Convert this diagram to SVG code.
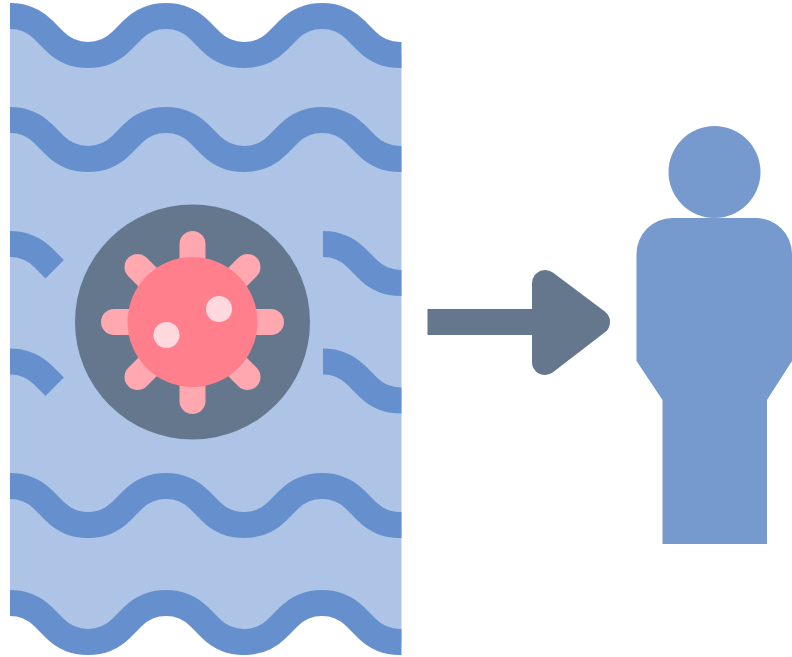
<svg xmlns="http://www.w3.org/2000/svg" xmlns:xlink="http://www.w3.org/1999/xlink" width="792" height="657" viewBox="0 0 792 657">
  <style>
    .wave { fill: none; stroke: #6690CD; stroke-width: 26; }
    .spike { fill: none; stroke: #FFA8B0; stroke-width: 26; stroke-linecap: round; }
    .dark { fill: #64778D; }
    .person { fill: #769ACD; }
    .spot { fill: #FFD9DD; }
  </style>
  <defs>
    <path id="full" d="M10 0a47 47 0 0 1 33.3 13.8l11.4 11.4a47 47 0 0 0 33.3 13.8a47 47 0 0 0 33.3-13.8l11.4-11.4a47 47 0 0 1 33.3-13.8a47 47 0 0 1 33.3 13.8l11.4 11.4a47 47 0 0 0 33.3 13.8a47 47 0 0 0 33.3-13.8l11.4-11.4a47 47 0 0 1 33.3-13.8a47 47 0 0 1 33.3 13.8l11.4 11.4a47 47 0 0 0 33.3 13.8h1.5"/>
    <path id="left" d="M10 0a47 47 0 0 1 33.3 13.8l11.4 11.4"/>
    <path id="right" d="M323 0a47 47 0 0 1 33.3 13.8l11.4 11.4a47 47 0 0 0 33.3 13.8h0.5"/>
  </defs>
  <g id="water">
    <path fill="#AEC4E6" d="M10 16a47 47 0 0 1 33.3 13.8l11.4 11.4a47 47 0 0 0 33.3 13.8a47 47 0 0 0 33.3-13.8l11.4-11.4a47 47 0 0 1 33.3-13.8a47 47 0 0 1 33.3 13.8l11.4 11.4a47 47 0 0 0 33.3 13.8a47 47 0 0 0 33.3-13.8l11.4-11.4a47 47 0 0 1 33.3-13.8a47 47 0 0 1 33.3 13.8l11.4 11.4a47 47 0 0 0 33.3 13.8h1.5V642h-1.5a47 47 0 0 1-33.3-13.8l-11.4-11.4a47 47 0 0 0-33.3-13.8a47 47 0 0 0-33.3 13.8l-11.4 11.4a47 47 0 0 1-33.3 13.8a47 47 0 0 1-33.3-13.8l-11.4-11.4a47 47 0 0 0-33.3-13.8a47 47 0 0 0-33.3 13.8l-11.4 11.4a47 47 0 0 1-33.3 13.8a47 47 0 0 1-33.3-13.8l-11.4-11.4a47 47 0 0 0-33.3-13.8Z"/>
    <use href="#full" class="wave" y="16"/>
    <use href="#full" class="wave" y="120"/>
    <use href="#left" class="wave" y="244"/>
    <use href="#right" class="wave" y="244"/>
    <use href="#left" class="wave" y="361.5"/>
    <use href="#right" class="wave" y="361.5"/>
    <use href="#full" class="wave" y="486"/>
    <use href="#full" class="wave" y="603"/>
  </g>
  <g id="virus">
    <circle class="dark" cx="192.5" cy="322" r="117.5"/>
    <path class="spike" d="M192.5 322V244M192.5 322V401M192.5 322H114M192.5 322H271M192.5 322L137.5 267M192.5 322L247.5 267M192.5 322L137.5 377M192.5 322L247.5 377"/>
    <circle fill="#FF808C" cx="192.5" cy="322" r="65"/>
    <circle class="spot" cx="219" cy="309" r="13"/>
    <circle class="spot" cx="166.5" cy="335" r="13"/>
  </g>
  <g id="connectors">
    <rect class="dark" x="427.5" y="309" width="120" height="26"/>
    <path class="dark" stroke="#64778D" stroke-width="26" stroke-linejoin="round" d="M545 283V362L597 322Z"/>
  </g>
  <g id="person">
    <circle class="person" cx="714.5" cy="172" r="46"/>
    <path class="person" d="M672.5 218H756a36 36 0 0 1 36 36V361L767 400V544H662.5V400L636.5 361V254a36 36 0 0 1 36-36Z"/>
  </g>
</svg>
